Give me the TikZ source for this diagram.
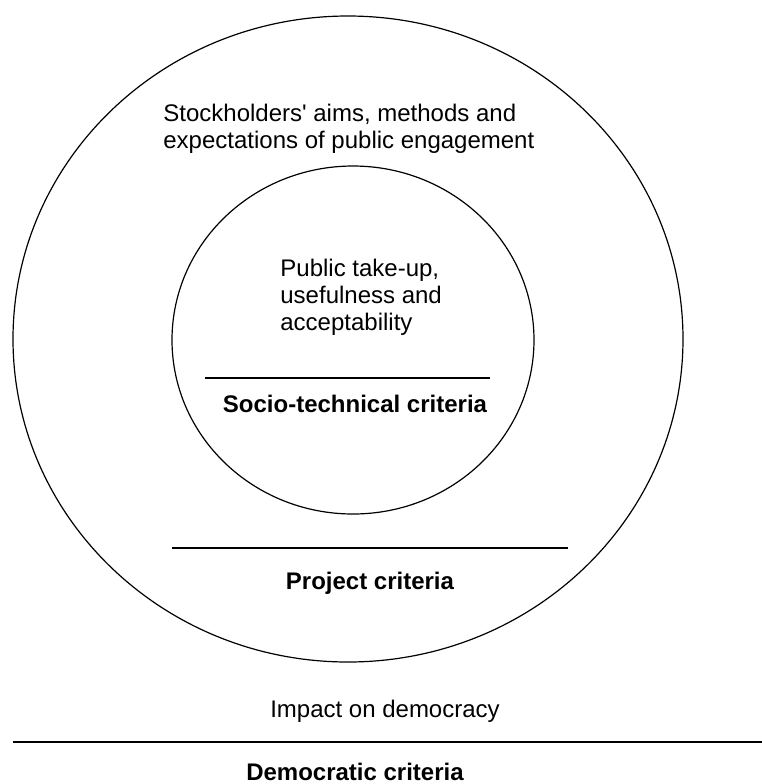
\documentclass[tikz,border=0pt]{standalone}
\usepackage{fontspec}
\setmainfont{Liberation Sans}[Ligatures=TeXOff]
\usetikzlibrary{shapes.geometric}

\begin{document}
\begin{tikzpicture}[
	x=0.5pt, y=-0.5pt,
	every node/.style={font=\fontsize{12}{13.5}\selectfont},
	ring/.style={ellipse, draw, line width=0.6pt, inner sep=0pt},
	divider/.style={line width=0.6pt},
	heading/.style={font=\fontsize{12}{13.5}\selectfont\bfseries},
	note/.style={align=left, inner sep=0pt, anchor=north west}
	]
	\useasboundingbox (0,0) rectangle (762,784);
	
	% Outer ring: project
	\node[ring, minimum width=335pt, minimum height=323pt] (outer) at (348,339) {};
	\node[note] (aims) at (163,104) {Stockholders' aims, methods and\\expectations of public engagement};
	
	% Inner ring: socio-technical
	\node[ring, minimum width=181pt, minimum height=174pt] (inner) at (353,340) {};
	\node[note] (takeup) at (280,259) {Public take-up,\\usefulness and\\acceptability};
	
	% Dividers
	\coordinate (st-l) at (205,378);
	\coordinate (st-r) at (490,378);
	\coordinate (pr-l) at (172,548);
	\coordinate (pr-r) at (568,548);
	\coordinate (dm-l) at (13,742);
	\coordinate (dm-r) at (762,742);
	\draw[divider] (st-l) -- (st-r);
	\draw[divider] (pr-l) -- (pr-r);
	\draw[divider] (dm-l) -- (dm-r);
	
	% Criteria labels
	\node[heading] (socio) at (355,404) {Socio-technical criteria};
	\node[heading] (project) at (370,583) {Project criteria};
	\node (impact) at (385,711) {Impact on democracy};
	\node[heading] (democ) at (355,772) {Democratic criteria};
	
\end{tikzpicture}
\end{document}
